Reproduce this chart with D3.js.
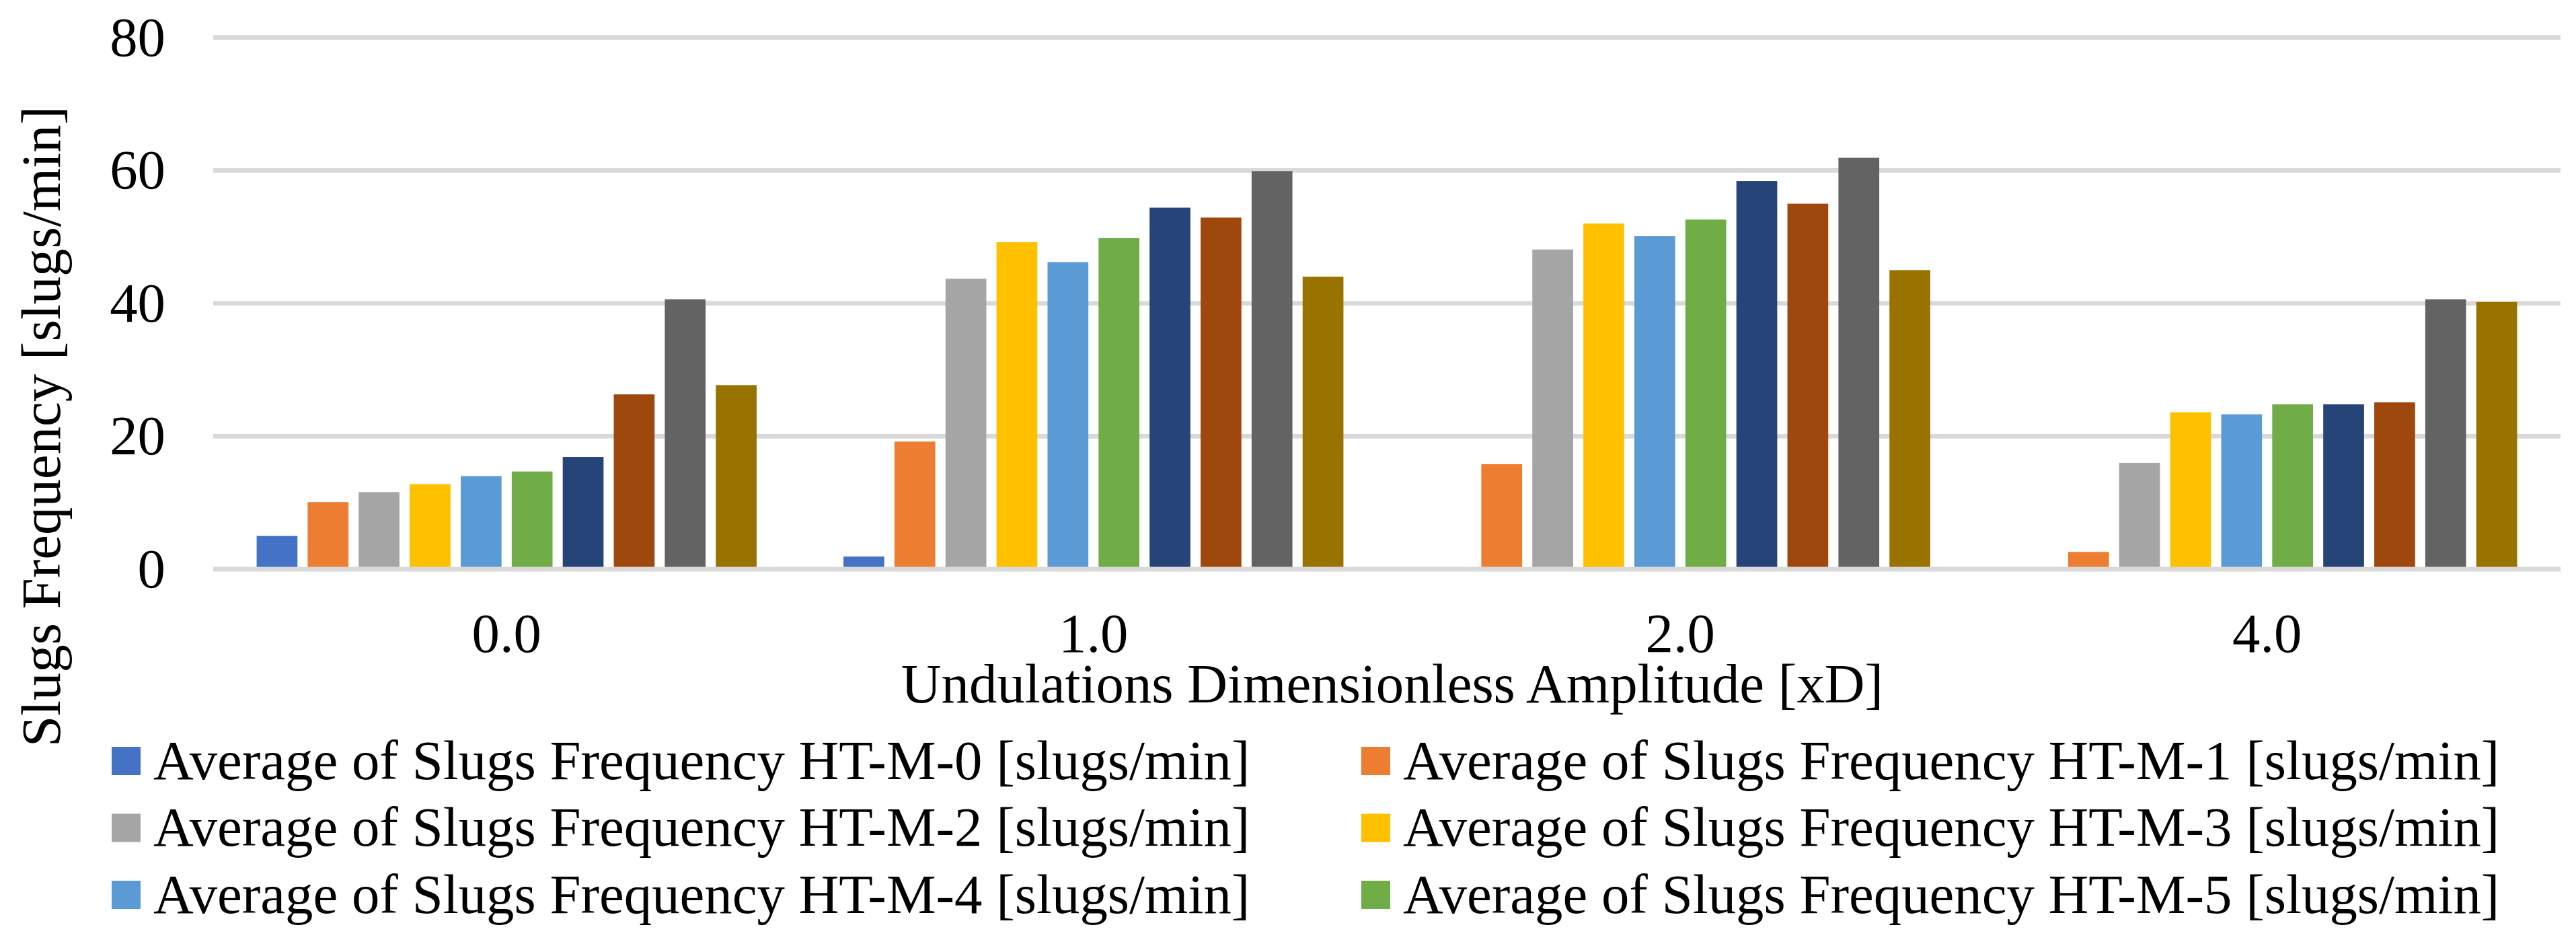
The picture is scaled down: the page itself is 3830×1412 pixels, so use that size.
<!DOCTYPE html>
<html>
<head>
<meta charset="utf-8">
<script src="https://cdn.jsdelivr.net/npm/d3@7"></script>
<style>body { margin: 0; background: #fff; }</style>
</head>
<body>
<script>
// data
const categories = ["0.0", "1.0", "2.0", "4.0"];
const seriesNames = [
    "Average of Slugs Frequency HT-M-0 [slugs/min]",
    "Average of Slugs Frequency HT-M-1 [slugs/min]",
    "Average of Slugs Frequency HT-M-2 [slugs/min]",
    "Average of Slugs Frequency HT-M-3 [slugs/min]",
    "Average of Slugs Frequency HT-M-4 [slugs/min]",
    "Average of Slugs Frequency HT-M-5 [slugs/min]",
    "Average of Slugs Frequency HT-M-6 [slugs/min]",
    "Average of Slugs Frequency HT-M-7 [slugs/min]",
    "Average of Slugs Frequency HT-M-8 [slugs/min]",
    "Average of Slugs Frequency HT-M-9 [slugs/min]"
];
// one array per category, one value per series
const amp00 = [5.0, 10.1, 11.6, 12.8, 14.0, 14.7, 16.9, 26.3, 40.6, 27.7];
const amp10 = [1.9, 19.2, 43.7, 49.2, 46.2, 49.8, 54.4, 52.9, 59.9, 44.0];
const amp20 = [0, 15.8, 48.1, 52.0, 50.1, 52.6, 58.4, 55.0, 61.9, 45.0];
const amp40 = [0, 2.6, 16.0, 23.6, 23.3, 24.8, 24.8, 25.1, 40.6, 40.2];
const yTicks = [0, 20, 40, 60, 80];
const legendCount = 6; // the reference legend only lists the first six

const colors = ["#4472C4", "#ED7D31", "#A5A5A5", "#FFC000", "#5B9BD5",
    "#70AD47", "#264478", "#9E480E", "#636363", "#997300"];

const valuesByCat = [amp00, amp10, amp20, amp40];

const W = 3830, H = 1412;
const plotL = 317, plotR = 3807, plotT = 55.7, plotB = 846;
const fontPx = "82.8px";
const fontFam = "'Liberation Serif'";

const svg = d3.select("body")
    .append("svg")
    .attr("width", W)
    .attr("height", H);

const x0 = d3.scaleBand()
    .domain(categories)
    .range([plotL, plotR])
    .paddingInner(0.148)
    .paddingOuter(0.074);

const x1 = d3.scaleBand()
    .domain(d3.range(seriesNames.length))
    .range([0, x0.bandwidth()])
    .paddingInner(0.2)
    .paddingOuter(0);

const y = d3.scaleLinear()
    .domain([0, 80])
    .range([plotB, plotT]);

// gridlines (behind the bars)
svg.append("g")
    .selectAll("line")
    .data(yTicks.filter(d => d !== 0))
    .enter()
    .append("line")
    .attr("x1", plotL)
    .attr("x2", plotR)
    .attr("y1", d => y(d))
    .attr("y2", d => y(d))
    .attr("stroke", "#D9D9D9")
    .attr("stroke-width", 6.8);

// bars
const groups = svg.append("g")
    .selectAll("g")
    .data(categories)
    .enter()
    .append("g")
    .attr("transform", d => "translate(" + x0(d) + ",0)");

groups.selectAll("rect")
    .data((d, i) => valuesByCat[i]
        .map((v, j) => ({ s: j, v: v }))
        .filter(b => b.v > 0))
    .enter()
    .append("rect")
    .attr("x", d => x1(d.s))
    .attr("y", d => y(d.v))
    .attr("width", x1.bandwidth())
    .attr("height", d => y(0) - y(d.v))
    .attr("fill", d => colors[d.s]);

// zero line drawn over the bar feet
svg.append("line")
    .attr("x1", plotL)
    .attr("x2", plotR)
    .attr("y1", y(0))
    .attr("y2", y(0))
    .attr("stroke", "#D9D9D9")
    .attr("stroke-width", 6.8);

// y axis labels
const yAxis = d3.axisLeft(y).tickValues(yTicks).tickSize(0).tickPadding(0);
const gy = svg.append("g")
    .attr("transform", "translate(246,0)")
    .call(yAxis);
gy.select(".domain").remove();
gy.selectAll("text")
    .style("font-family", fontFam)
    .style("font-size", fontPx)
    .attr("fill", "#000")
    .attr("x", 0)
    .attr("dy", "0.32em");

// x axis labels
const xAxis = d3.axisBottom(x0).tickSize(0).tickPadding(0);
const gx = svg.append("g")
    .attr("transform", "translate(0," + plotB + ")")
    .call(xAxis);
gx.select(".domain").remove();
gx.selectAll("text")
    .style("font-family", fontFam)
    .style("font-size", fontPx)
    .attr("fill", "#000")
    .attr("y", 123)
    .attr("dy", 0);

// axis titles
svg.append("text")
    .style("font-family", fontFam)
    .style("font-size", fontPx)
    .attr("x", (plotL + plotR) / 2 + 8)
    .attr("y", 1044)
    .attr("text-anchor", "middle")
    .text("Undulations Dimensionless Amplitude [xD]");

svg.append("text")
    .style("font-family", fontFam)
    .style("font-size", fontPx)
    .attr("transform", "translate(89,634) rotate(-90)")
    .attr("text-anchor", "middle")
    .text("Slugs Frequency [slugs/min]");

// legend, two columns, three rows
const legendCols = [166, 2024];
const legendRowTop = 1110, legendRowStep = 99.5;
const legend = svg.append("g")
    .selectAll("g")
    .data(seriesNames.slice(0, legendCount))
    .enter()
    .append("g")
    .attr("transform", (d, i) => "translate(" + legendCols[i % 2] + "," +
        (legendRowTop + Math.floor(i / 2) * legendRowStep) + ")");

legend.append("rect")
    .attr("width", 43)
    .attr("height", 42)
    .attr("fill", (d, i) => colors[i]);

legend.append("text")
    .style("font-family", fontFam)
    .style("font-size", fontPx)
    .attr("x", 62)
    .attr("y", 21)
    .attr("dy", "0.32em")
    .text(d => d);
</script>
</body>
</html>
